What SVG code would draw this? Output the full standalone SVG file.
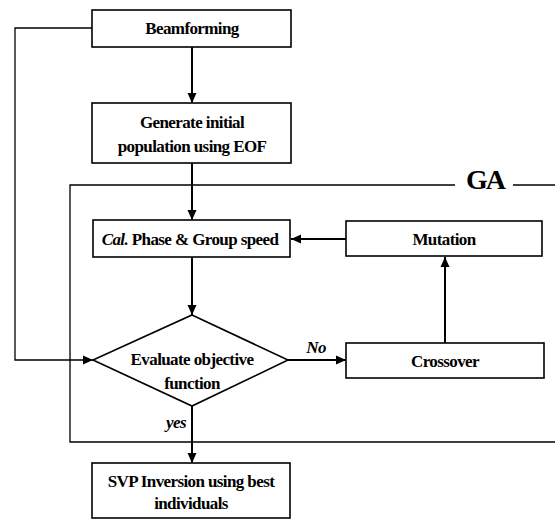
<svg xmlns="http://www.w3.org/2000/svg" width="555" height="521" viewBox="0 0 555 521">
<defs>
<marker id="ah" markerWidth="10" markerHeight="10" refX="10" refY="5" orient="auto" markerUnits="userSpaceOnUse">
<path d="M0,0.5 L10,5 L0,9.5 Z" fill="#000"/>
</marker>
<style>
.box{fill:#fff;stroke:#000;stroke-width:1.6}
.t{font-family:'Liberation Serif','Times New Roman',serif;font-weight:bold;font-size:17px;letter-spacing:-0.6px;text-anchor:middle;fill:#000}
.i{font-style:italic}
.c{fill:none;stroke:#000;stroke-width:2}
.thin{fill:none;stroke:#000;stroke-width:1.3}
</style>
</defs>
<rect width="555" height="521" fill="#fff"/>
<g id="ga-frame">
<polyline class="thin" points="455,185 70,185 70,442 555,442"/>
<line class="thin" x1="513" y1="185" x2="555" y2="185"/>
<text class="t" x="485" y="189" font-family="Liberation Serif, serif" style="font-size:28px;letter-spacing:-2px">GA</text>
</g>
<g id="connectors">
<line class="c" x1="192" y1="47" x2="192" y2="103" marker-end="url(#ah)"/>
<line class="c" x1="192" y1="163" x2="192" y2="220" marker-end="url(#ah)"/>
<line class="c" x1="192" y1="257" x2="192" y2="315" marker-end="url(#ah)"/>
<line class="c" x1="346" y1="239" x2="291" y2="239" marker-end="url(#ah)"/>
<line class="c" x1="445" y1="343" x2="445" y2="257" marker-end="url(#ah)"/>
<line class="c" x1="288" y1="360" x2="346" y2="360" marker-end="url(#ah)"/>
<line class="c" x1="192" y1="406" x2="192" y2="463" marker-end="url(#ah)"/>
<polyline class="thin" points="92,28 15,28 15,360 93,360" marker-end="url(#ah)"/>
<text class="t i" x="316" y="353">No</text>
<text class="t i" x="186" y="428" style="text-anchor:end">yes</text>
</g>
<g id="beamforming">
<rect class="box" x="92" y="10" width="199" height="37"/>
<text class="t" x="192" y="34">Beamforming</text>
</g>
<g id="generate">
<rect class="box" x="92" y="103" width="199" height="60"/>
<text class="t" x="192" y="128">Generate initial</text>
<text class="t" x="192" y="152">population using EOF</text>
</g>
<g id="cal">
<rect class="box" x="93" y="220" width="197" height="37"/>
<text class="t" x="190" y="245"><tspan class="i">Cal.</tspan> Phase &amp; Group speed</text>
</g>
<g id="mutation">
<rect class="box" x="346" y="221" width="196" height="35"/>
<text class="t" x="444" y="245">Mutation</text>
</g>
<g id="evaluate">
<polygon class="box" points="192,315 288,360 192,406 93,360"/>
<text class="t" x="192" y="365">Evaluate objective</text>
<text class="t" x="192" y="389">function</text>
</g>
<g id="crossover">
<rect class="box" x="346" y="343" width="198" height="35"/>
<text class="t" x="445" y="367">Crossover</text>
</g>
<g id="svp">
<rect class="box" x="92" y="463" width="198" height="55"/>
<text class="t" x="191" y="487">SVP Inversion using best</text>
<text class="t" x="191" y="509">individuals</text>
</g>
</svg>
